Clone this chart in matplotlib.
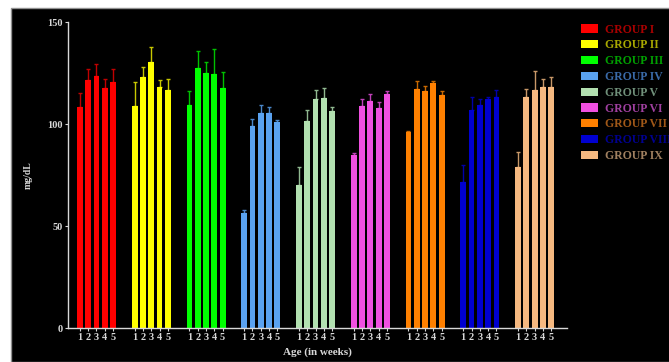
import numpy as np
import matplotlib.pyplot as plt
from matplotlib.patches import Rectangle

groups = ['GROUP I', 'GROUP II', 'GROUP III', 'GROUP IV', 'GROUP V',
          'GROUP VI', 'GROUP VII', 'GROUP VIII', 'GROUP IX']
weeks = ['1', '2', '3', '4', '5']

# mean values (mg/dL) per group, weeks 1-5
means = [
    [108.5, 121.6, 123.5, 117.5, 120.7],
    [108.8, 123.2, 130.2, 118.0, 116.7],
    [109.3, 127.6, 124.8, 124.4, 117.5],
    [56.2, 99.2, 105.2, 105.2, 101.0],
    [70.1, 101.6, 112.1, 112.9, 106.5],
    [84.8, 108.8, 111.4, 108.0, 114.7],
    [96.0, 117.0, 116.2, 120.0, 114.4],
    [71.7, 106.9, 109.2, 112.4, 113.1],
    [79.1, 113.4, 116.7, 118.0, 118.3],
]
# upper error (SD)
errs = [
    [6.8, 5.2, 5.9, 4.7, 6.3],
    [11.9, 4.9, 7.4, 3.6, 5.4],
    [6.9, 8.2, 5.4, 12.2, 8.1],
    [1.6, 3.4, 4.0, 3.3, 0.8],
    [8.9, 5.3, 4.6, 4.7, 2.0],
    [0.8, 3.5, 3.3, 3.0, 1.6],
    [0.5, 4.2, 2.3, 1.1, 1.9],
    [8.3, 6.2, 3.1, 0.6, 3.6],
    [7.3, 3.6, 9.3, 4.2, 4.9],
]

bar_colors = ['#ff0000', '#ffff00', '#00ff00', '#5aa2f0', '#b2e0b0',
              '#f050e0', '#ff8000', '#0000d0', '#f5b880']
err_colors = ['#c00000', '#c8c800', '#00c000', '#4a86c8', '#90b890',
              '#c040b8', '#c86800', '#0000a8', '#c89868']
text_colors = ['#a80000', '#a8a800', '#00a000', '#3a6aa8', '#70907a',
               '#a040a0', '#a05818', '#000090', '#a08060']

plt.rcParams['font.family'] = ['Liberation Serif', 'DejaVu Serif']
plt.rcParams['font.weight'] = 'bold'

fig = plt.figure(figsize=(6.69, 3.62), dpi=100, facecolor='white')
# black panel behind the chart
bg = Rectangle((11 / 669, 0), 1, (362 - 8) / 362, transform=fig.transFigure,
               facecolor='black', edgecolor='#909090', linewidth=1.0, zorder=-10)
fig.add_artist(bg)

ax = fig.add_axes([68 / 669, 34 / 362, 499 / 669, 306 / 362])
ax.set_facecolor('none')

step = 6.6
width = 0.7
light = '#d8d8d8'
xt, xl = [], []
for g in range(len(groups)):
    xs = g * step + np.arange(5) - 2
    ax.bar(xs, means[g], width=width, color=bar_colors[g], label=groups[g], zorder=2)
    ax.errorbar(xs, means[g], yerr=[np.zeros(5), errs[g]], fmt='none',
                ecolor=err_colors[g], elinewidth=1.0, capsize=1.5, capthick=1.0, zorder=1)
    xt.extend(xs)
    xl.extend(weeks)

ax.set_xlim(-3.43, 56.7)
ax.set_ylim(0, 150)
ax.set_yticks([0, 50, 100, 150])
ax.set_xticks(xt)
ax.set_xticklabels(xl, fontweight='bold')
ax.set_yticklabels(['0', '50', '100', '150'], fontweight='bold')
for s in ['top', 'right']:
    ax.spines[s].set_visible(False)
for s in ['left', 'bottom']:
    ax.spines[s].set_color(light)
    ax.spines[s].set_linewidth(1.0)
ax.tick_params(axis='both', colors=light, labelsize=7.5, length=2.5, width=0.8, pad=1.5)
ax.tick_params(axis='x', pad=1)
ax.set_ylabel('mg/dL', color=light, fontsize=7, fontweight='bold', labelpad=10)
ax.set_xlabel('Age (in weeks)', color=light, fontsize=8, fontweight='bold', labelpad=4)

leg = ax.legend(loc='upper left', bbox_to_anchor=(1.018, 1.01), frameon=False,
                borderaxespad=0, fontsize=8.5, handlelength=1.5, handleheight=0.7,
                handletextpad=0.6, labelspacing=0.32)
for t, c in zip(leg.get_texts(), text_colors):
    t.set_color(c)

fig.savefig('out.png', dpi=100, facecolor='white')
